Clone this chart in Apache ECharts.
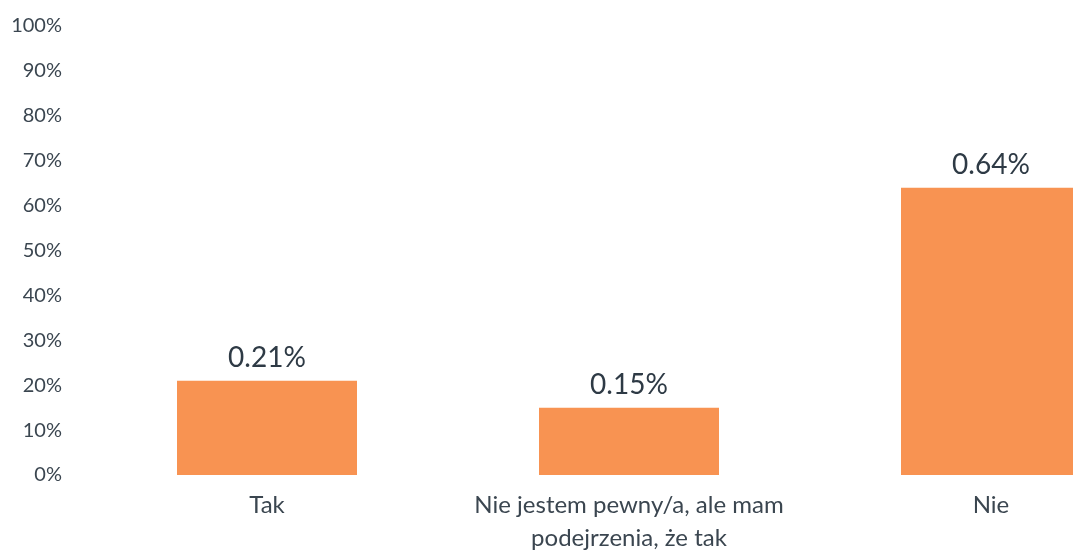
<!DOCTYPE html>
<html>
<head>
<meta charset="utf-8">
<script src="https://cdn.jsdelivr.net/npm/echarts@6/dist/echarts.min.js"></script>
<style>
  html, body { margin: 0; padding: 0; background: #fff; overflow: hidden; }
  /* the last bar is cut off by the right edge in the original, so the chart is wider than the window */
  #chart { width: 1172px; height: 555px; }
</style>
</head>
<body>
<div id="chart"></div>
<script>
var categories = ['Tak', 'Nie jestem pewny/a, ale mam\npodejrzenia, że tak', 'Nie'];
var values = [0.21, 0.15, 0.64];
var barLabels = ['0.21%', '0.15%', '0.64%'];

var chart = echarts.init(document.getElementById('chart'));
chart.setOption({
  animation: false,
  textStyle: { fontFamily: 'Lato, "Open Sans", sans-serif' },
  grid: {
    top: 26,
    bottom: 78,
    left: 86,
    right: 0
  },
  xAxis: {
    type: 'category',
    data: categories,
    axisLine: { show: false },
    axisTick: { show: false },
    axisLabel: {
      color: '#3b4650',
      fontSize: 24,
      lineHeight: 33,
      margin: 14,
      interval: 0
    }
  },
  yAxis: {
    type: 'value',
    min: 0,
    max: 1,
    interval: 0.1,
    splitLine: { show: false },
    axisLine: { show: false },
    axisTick: { show: false },
    axisLabel: {
      color: '#3b4650',
      fontSize: 20,
      margin: 24,
      formatter: function (v) { return Math.round(v * 100) + '%'; }
    }
  },
  series: [{
    type: 'bar',
    data: values,
    barWidth: 180,
    itemStyle: { color: '#f89352' },
    label: {
      show: true,
      position: 'top',
      distance: 9,
      color: '#2e3a45',
      fontSize: 28,
      formatter: function (p) { return barLabels[p.dataIndex]; }
    }
  }]
});
</script>
</body>
</html>
